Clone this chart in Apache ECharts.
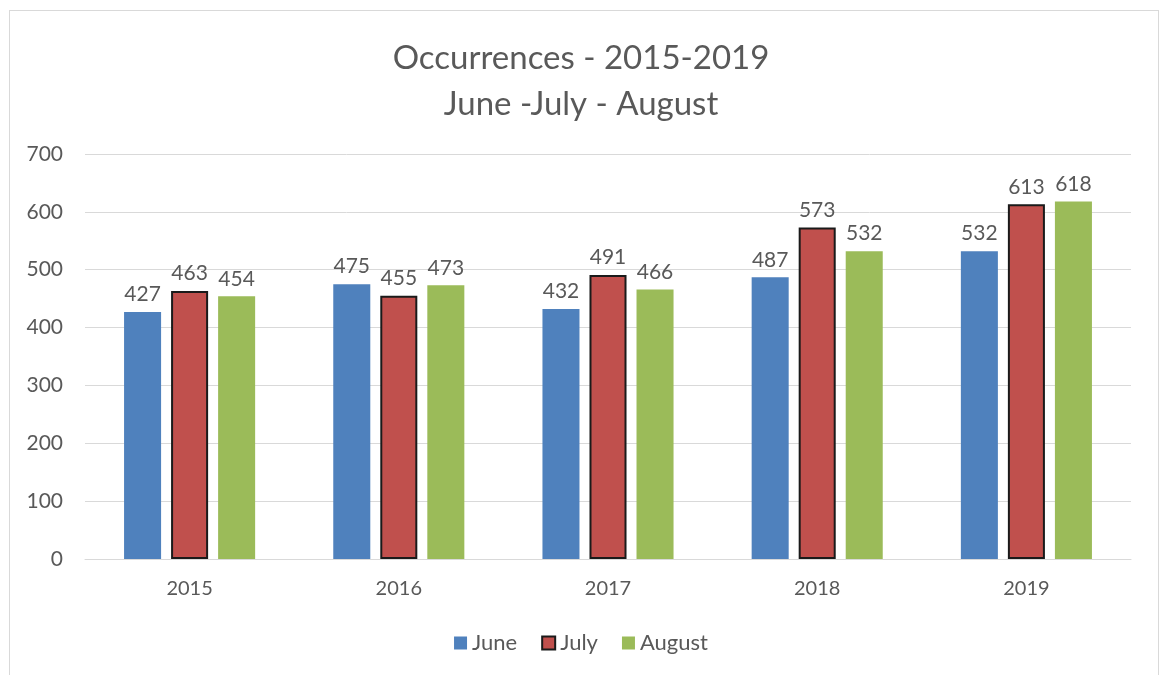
<!DOCTYPE html>
<html><head><meta charset="utf-8">
<script src="https://cdn.jsdelivr.net/npm/echarts@6/dist/echarts.min.js"></script>
<style>html,body{margin:0;padding:0;background:#fff}#c{width:1162px;height:675px}
#frame{position:absolute;left:9px;top:10px;width:1150px;height:700px;border:1px solid #d9d9d9;box-sizing:border-box;pointer-events:none}</style>
</head><body><div id="c"></div><div id="frame"></div>
<script>
const categories = ['2015','2016','2017','2018','2019'];
const june = [427,475,432,487,532];
const july = [463,455,491,573,613];
const august = [454,473,466,532,618];
const yTicks = {min:0,max:700,interval:100};
const FONT = 'Lato, "Open Sans", sans-serif';
const TXT = '#595959';
const chart = echarts.init(document.getElementById('c'));
const lbl = {show:true,position:'top',distance:7,color:TXT,fontSize:21,fontFamily:FONT};
chart.setOption({
  animation:false,
  title:{text:'Occurrences - 2015-2019\nJune -July - August',left:'center',top:30,
    textStyle:{fontSize:33,fontWeight:'normal',color:TXT,fontFamily:FONT,lineHeight:46}},
  grid:{left:85,right:31,top:154,bottom:116,containLabel:false},
  legend:{bottom:16,left:'center',itemWidth:13,itemHeight:13,itemGap:24,
    textStyle:{fontSize:22,color:TXT,fontFamily:FONT},
    data:[{name:'June',icon:'rect'},{name:'July',icon:'rect'},{name:'August',icon:'rect'}]},
  xAxis:{type:'category',data:categories,axisTick:{show:false},
    axisLine:{lineStyle:{color:'#d9d9d9',width:1}},
    axisLabel:{color:TXT,fontSize:20,fontFamily:FONT,margin:20}},
  yAxis:{type:'value',min:yTicks.min,max:yTicks.max,interval:yTicks.interval,
    axisLine:{show:false},axisTick:{show:false},
    splitLine:{lineStyle:{color:'#d9d9d9',width:1}},
    axisLabel:{color:TXT,fontSize:21,fontFamily:FONT,margin:22}},
  series:[
    {name:'June',type:'bar',data:june,barWidth:'17.7%',barGap:'27%',itemStyle:{color:'#4F81BD'},label:lbl},
    {name:'July',type:'bar',data:july,barWidth:'17.7%',barGap:'27%',itemStyle:{color:'#C0504D',borderColor:'#1a1a1a',borderWidth:2},label:lbl},
    {name:'August',type:'bar',data:august,barWidth:'17.7%',barGap:'27%',itemStyle:{color:'#9BBB59'},label:lbl}
  ]
});
</script></body></html>
